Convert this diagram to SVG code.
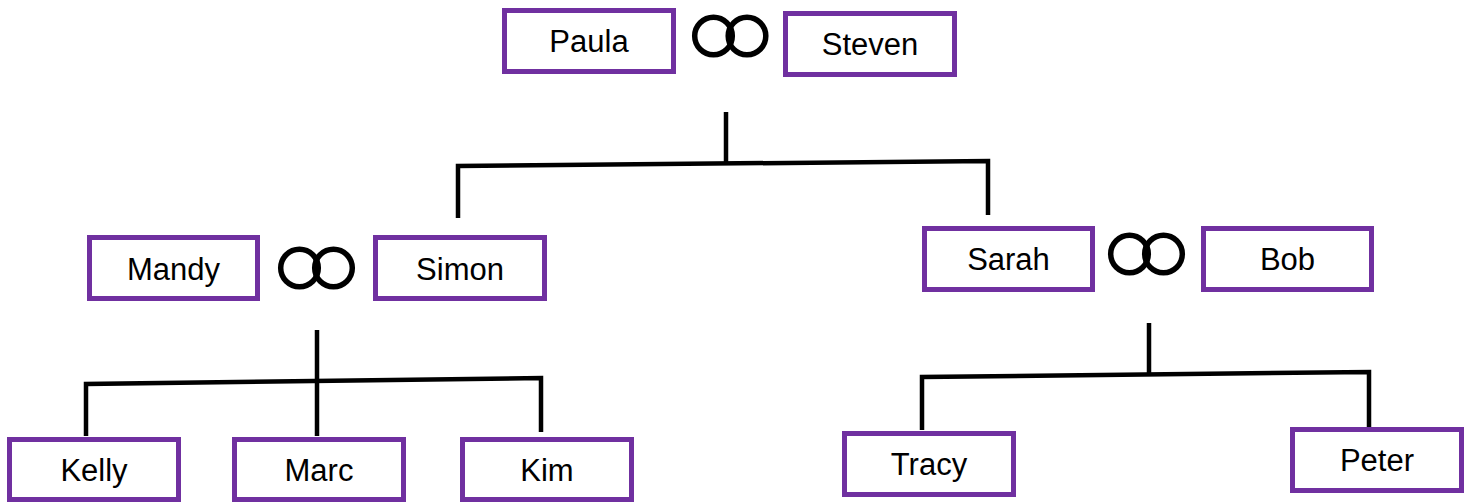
<svg xmlns="http://www.w3.org/2000/svg" width="1470" height="502" viewBox="0 0 1470 502">
  <style>
    .box { fill: #ffffff; stroke: #7030A0; stroke-width: 5; }
    .lbl { font-family: "Liberation Sans", Arial, sans-serif; font-size: 31px; fill: #000000; text-anchor: middle; }
    .ring { fill: none; stroke: #000000; stroke-width: 5.5; }
    .conn { fill: none; stroke: #000000; stroke-width: 4.5; stroke-linejoin: miter; stroke-linecap: butt; }
  </style>
  <rect width="1470" height="502" fill="#ffffff"/>

  <g id="connectors">
    <path class="conn" d="M726,112 L726,164"/>
    <path class="conn" d="M458,218 L458,166 L988,161 L988,215"/>
    <path class="conn" d="M317,330 L317,436"/>
    <path class="conn" d="M86,436 L86,384 L541,378 L541,432"/>
    <path class="conn" d="M1149,323 L1149,375"/>
    <path class="conn" d="M922,430 L922,377 L1369,372 L1369,427"/>
  </g>

  <g id="marriage-top">
    <circle class="ring" cx="713.5" cy="36" r="18.8"/>
    <circle class="ring" cx="747" cy="36" r="18.8"/>
  </g>
  <g id="marriage-left">
    <circle class="ring" cx="299.5" cy="268" r="18.8"/>
    <circle class="ring" cx="333.5" cy="268" r="18.8"/>
  </g>
  <g id="marriage-right">
    <circle class="ring" cx="1129.5" cy="254" r="18.8"/>
    <circle class="ring" cx="1163.5" cy="254" r="18.8"/>
  </g>

  <g id="paula">
    <rect class="box" x="504.5" y="10.5" width="169" height="61"/>
    <text class="lbl" x="589" y="52">Paula</text>
  </g>
  <g id="steven">
    <rect class="box" x="785.5" y="13.5" width="169" height="61"/>
    <text class="lbl" x="870" y="55">Steven</text>
  </g>
  <g id="mandy">
    <rect class="box" x="89.5" y="237.5" width="168" height="61"/>
    <text class="lbl" x="173.5" y="280">Mandy</text>
  </g>
  <g id="simon">
    <rect class="box" x="375.5" y="237.5" width="169" height="61"/>
    <text class="lbl" x="460" y="280">Simon</text>
  </g>
  <g id="sarah">
    <rect class="box" x="924.5" y="228.5" width="168" height="61"/>
    <text class="lbl" x="1008.5" y="270">Sarah</text>
  </g>
  <g id="bob">
    <rect class="box" x="1203.5" y="228.5" width="168" height="61"/>
    <text class="lbl" x="1287.5" y="270">Bob</text>
  </g>
  <g id="kelly">
    <rect class="box" x="9.5" y="439.5" width="169" height="60"/>
    <text class="lbl" x="94" y="480.5">Kelly</text>
  </g>
  <g id="marc">
    <rect class="box" x="234.5" y="439.5" width="169" height="60"/>
    <text class="lbl" x="319" y="480.5">Marc</text>
  </g>
  <g id="kim">
    <rect class="box" x="462.5" y="439.5" width="169" height="60"/>
    <text class="lbl" x="547" y="480.5">Kim</text>
  </g>
  <g id="tracy">
    <rect class="box" x="844.5" y="433.5" width="169" height="61"/>
    <text class="lbl" x="929" y="475">Tracy</text>
  </g>
  <g id="peter">
    <rect class="box" x="1292.5" y="429.5" width="169" height="61"/>
    <text class="lbl" x="1377" y="471">Peter</text>
  </g>
</svg>
